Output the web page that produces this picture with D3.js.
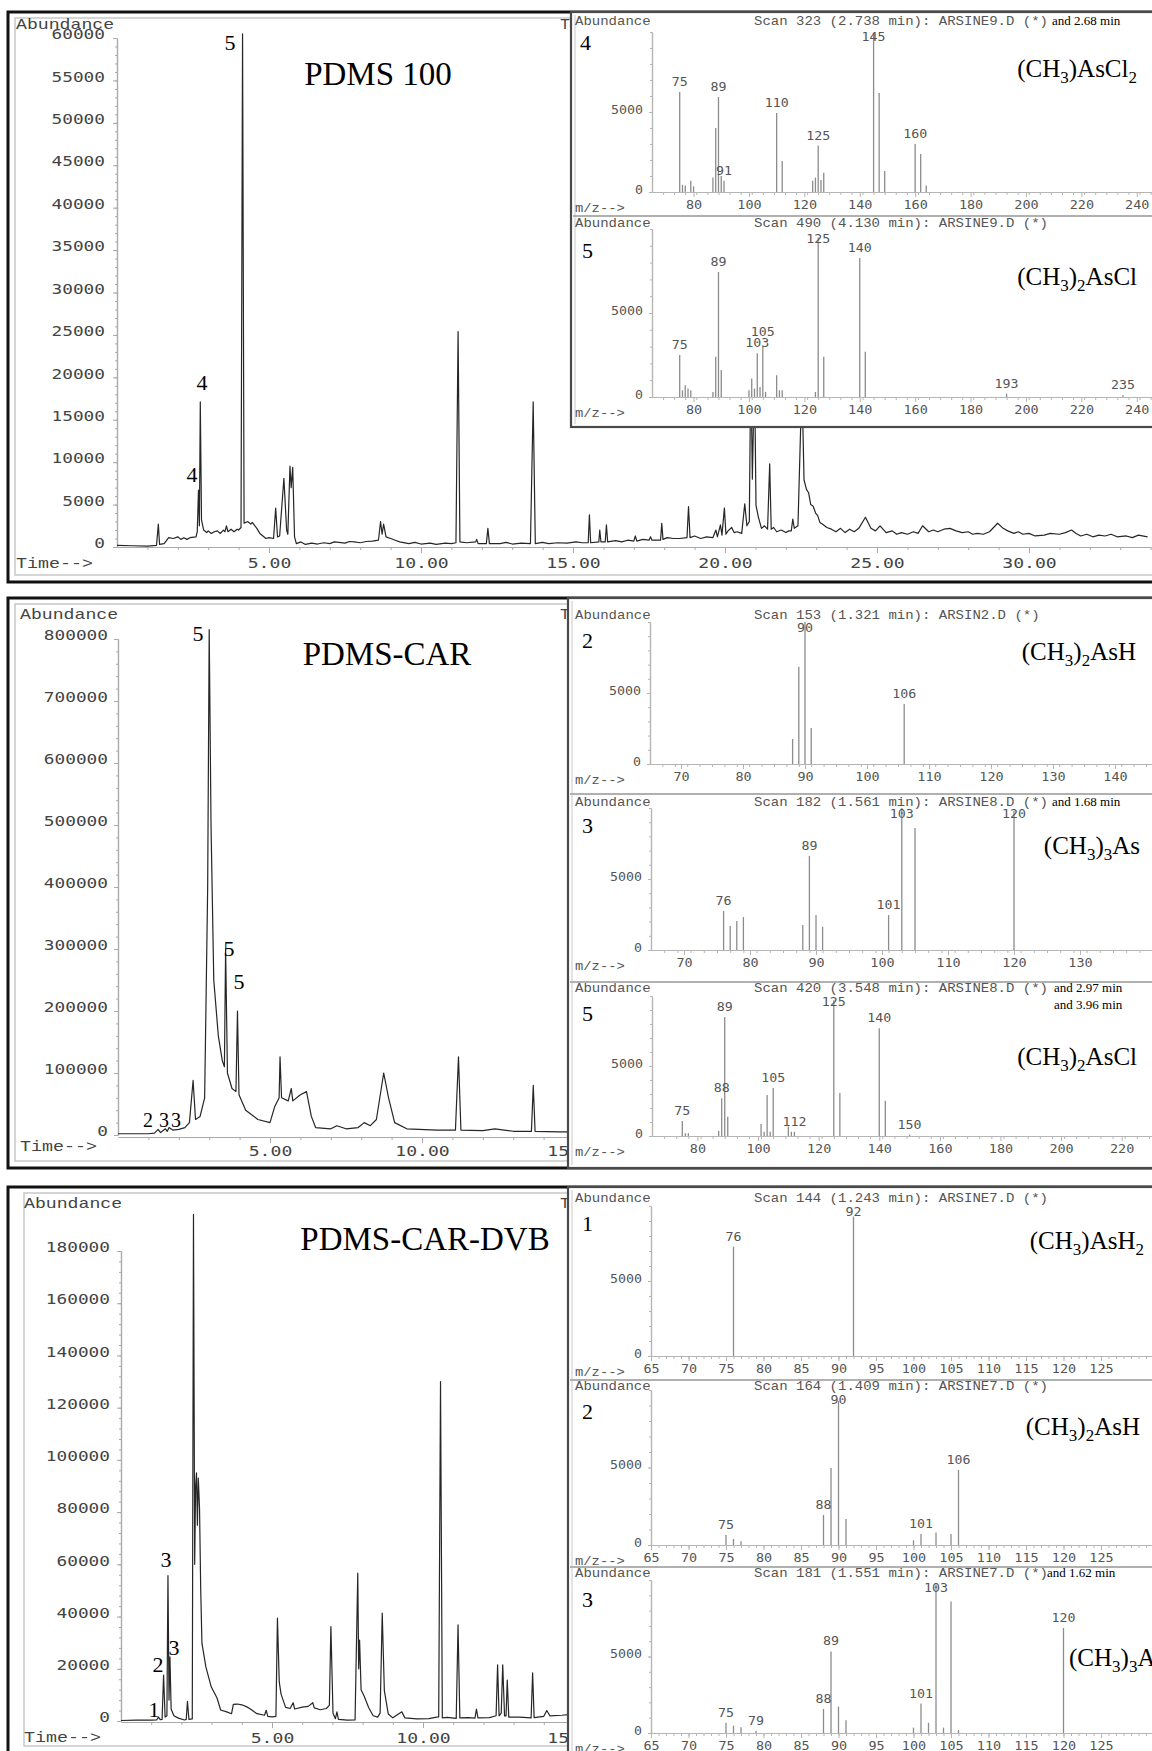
<!DOCTYPE html>
<html><head><meta charset="utf-8">
<script src="https://cdn.jsdelivr.net/npm/d3@7"></script>
<style>body{margin:0;background:#fff}svg{display:block}</style>
</head><body>
<script>
// ================= DATA =================
const timeTicks = [5, 10, 15, 20, 25, 30];
const yTicks1 = [0,5000,10000,15000,20000,25000,30000,35000,40000,45000,50000,55000,60000];
const yTicks2 = [0,100000,200000,300000,400000,500000,600000,700000,800000];
const yTicks3 = [0,20000,40000,60000,80000,100000,120000,140000,160000,180000];

// PDMS 100 total ion chromatogram [time (min), abundance]
const chromPDMS100 = [
[0.00,200],[0.5,150],[1.0,100],[1.30,200],[1.36,2700],[1.40,300],[1.55,400],[1.70,1100],[1.85,1000],[2.0,1200],[2.1,900],[2.2,1100],[2.3,900],[2.4,1100],[2.60,1200],
[2.64,1800],[2.68,6700],[2.71,2500],[2.74,17100],[2.78,3200],[2.85,2000],[2.95,1700],[3.0,1900],[3.1,1600],[3.2,1800],[3.3,1900],[3.4,1600],[3.5,2000],[3.55,1800],[3.60,2500],[3.65,1800],
[3.75,2100],[3.85,1800],[3.95,2100],[4.0,2000],[4.08,2300],[4.13,60500],[4.18,2800],[4.3,3000],[4.4,2700],[4.45,2900],[4.6,2200],[4.7,1600],[4.8,1300],[4.9,1000],[5.0,1100],[5.15,1000],[5.22,4600],[5.28,1200],
[5.35,1300],[5.49,8100],[5.58,2000],[5.62,1500],[5.69,9550],[5.73,7000],[5.78,9400],[5.84,1200],[5.9,400],[6.05,600],[6.2,300],[6.4,450],[6.6,350],[6.8,500],[7.0,400],[7.15,600],[7.3,550],[7.5,450],
[7.65,650],[7.8,600],[8.0,500],[8.2,650],[8.4,700],[8.6,800],[8.67,3000],[8.72,1500],[8.77,2700],[8.85,1200],[9.0,1000],[9.15,800],[9.3,600],[9.6,400],[9.8,550],[10.0,350],[10.3,450],[10.5,300],
[10.8,450],[11.0,400],[11.15,500],[11.22,25400],[11.28,600],[11.5,500],[11.8,600],[11.83,900],[11.88,400],[12.15,400],[12.2,2200],[12.25,400],[12.6,400],[12.8,550],[13.0,350],
[13.3,450],[13.6,400],[13.69,17100],[13.76,400],[14.0,550],[14.2,400],[14.5,500],[14.8,450],[15.1,600],[15.3,500],[15.5,500],[15.54,3800],[15.58,500],[15.85,600],[15.88,2000],
[15.92,600],[16.06,600],[16.1,2600],[16.14,600],[16.4,750],[16.6,600],[16.8,800],[17.0,700],[17.05,1300],[17.1,700],[17.3,900],[17.5,800],[17.55,1200],[17.6,800],[17.88,800],[17.92,2800],
[17.96,900],[18.1,1100],[18.3,1000],[18.5,1000],[18.75,1100],[18.8,4750],[18.85,1100],[19.0,1300],[19.2,1000],[19.4,1200],[19.6,1100],[19.7,2000],[19.75,1200],[19.85,2600],[19.9,1400],
[19.98,4600],[20.03,1500],[20.1,1900],[20.22,2300],[20.3,1700],[20.4,1800],[20.55,1600],[20.65,5100],[20.72,2500],[20.8,3000],[20.85,22000],[20.9,8000],[20.97,21000],[21.02,4900],
[21.1,3500],[21.2,2200],[21.3,2500],[21.4,2100],[21.47,9800],[21.52,2100],[21.6,2300],[21.7,1800],[21.85,2000],[22.0,1700],[22.1,1900],[22.18,1900],[22.23,3300],[22.28,2200],[22.4,2500],[22.53,19500],
[22.6,7900],[22.68,6800],[22.75,6400],[22.82,5000],[22.9,4800],[22.98,4000],[23.05,3700],[23.12,2900],[23.2,2700],[23.35,2300],[23.5,2100],[23.65,1800],[23.8,2200],[23.95,1700],[24.1,2100],[24.25,1800],
[24.4,2200],[24.62,3500],[24.8,2200],[24.95,1900],[25.1,2500],[25.3,1700],[25.5,1900],[25.65,1500],[25.8,1700],[26.0,1500],[26.2,1800],[26.35,1600],[26.5,2500],[26.7,1800],
[26.85,2000],[27.0,1800],[27.2,2100],[27.4,2200],[27.6,1900],[27.8,1700],[28.0,1800],[28.15,1500],[28.3,1600],[28.5,1500],[28.7,1800],[28.97,2800],[29.15,2200],[29.3,1900],
[29.5,1600],[29.65,1800],[29.8,1500],[30.0,1600],[30.2,1300],[30.5,1400],[30.7,1600],[31.0,1500],[31.2,1700],[31.4,2000],[31.55,1600],[31.7,1300],[31.9,1500],[32.1,1200],
[32.3,1400],[32.5,1300],[32.7,1500],[32.9,1200],[33.2,1300],[33.4,1100],[33.6,1400],[33.9,1200]
];

// PDMS-CAR chromatogram
const chromPDMSCAR = [
[0.0,2000],[1.0,2000],[1.2,3000],[1.32,9000],[1.4,4000],[1.56,10000],[1.62,6000],[1.68,12000],[1.8,8000],[2.0,9000],[2.2,12000],[2.35,20000],
[2.47,88000],[2.55,25000],[2.7,30000],[2.85,60000],[2.95,400000],[3.0,815000],[3.06,500000],[3.15,250000],[3.3,160000],[3.43,120000],[3.50,110000],
[3.54,300000],[3.60,100000],[3.75,75000],[3.88,70000],[3.93,200000],[3.98,65000],[4.2,40000],[4.6,25000],[5.0,20000],[5.15,45000],[5.3,60000],
[5.33,126000],[5.38,60000],[5.6,55000],[5.7,75000],[5.75,55000],[6.0,65000],[6.2,70000],[6.36,30000],[6.5,12000],[7.0,10000],[7.2,15000],[7.5,10000],
[7.9,12000],[8.1,20000],[8.3,15000],[8.5,25000],[8.74,100000],[8.9,60000],[9.1,20000],[9.5,10000],[10.5,8000],[11.1,8000],[11.2,126000],[11.28,8000],
[12.0,7000],[12.4,10000],[13.0,6000],[13.6,6000],[13.66,80000],[13.72,6000],[14.5,5000],[15.2,5000]
];

// PDMS-CAR-DVB chromatogram
const chromPDMSCARDVB = [
[0.0,200],[0.5,300],[1.0,300],[1.18,400],[1.24,1500],[1.30,500],[1.36,600],[1.41,17600],[1.46,1500],[1.52,2000],[1.555,55700],[1.59,8000],[1.62,24600],
[1.66,4600],[1.75,2000],[1.9,1100],[2.1,400],[2.16,600],[2.2,7500],[2.25,600],[2.36,800],[2.40,194000],[2.44,60000],[2.47,90000],[2.50,95000],[2.53,75000],
[2.56,93000],[2.60,81600],[2.64,50000],[2.68,29800],[2.81,20700],[2.99,13000],[3.18,8800],[3.30,4200],[3.50,3500],[3.66,2800],[3.72,6400],[3.85,6500],
[4.0,6200],[4.15,5500],[4.26,4800],[4.4,3600],[4.5,2800],[4.75,2200],[4.81,4100],[4.86,1800],[5.0,1600],[5.13,1800],[5.18,39400],[5.24,15000],[5.3,10300],
[5.45,5200],[5.6,4800],[5.7,7000],[5.75,4600],[6.0,5300],[6.2,5600],[6.35,7000],[6.4,5000],[6.6,4300],[6.8,4800],[6.9,6000],[6.95,36200],[7.02,3000],
[7.1,900],[7.15,3500],[7.2,600],[7.5,300],[7.75,400],[7.84,56600],[7.87,20000],[7.9,31000],[7.95,12000],[8.05,9600],[8.2,5200],[8.35,2000],[8.5,1500],
[8.58,3000],[8.65,41300],[8.72,11600],[8.85,2700],[9.0,1200],[9.3,3500],[9.4,1200],[9.8,800],[10.2,900],[10.45,1500],[10.52,1600],[10.58,130000],
[10.64,1200],[10.8,1400],[11.1,1000],[11.16,36800],[11.22,1200],[11.5,1300],[11.72,1100],[11.77,4600],[11.82,1200],[12.2,1300],[12.42,2000],[12.47,21500],
[12.52,2000],[12.59,3000],[12.64,21500],[12.70,2000],[12.75,2000],[12.79,15700],[12.84,1500],[13.2,1500],[13.58,1200],[13.63,18400],[13.68,1300],
[14.0,1800],[14.1,4000],[14.2,2000],[14.6,2200],[15.0,2600],[15.3,2500]
];

// Mass spectra [m/z, abundance]
const spec4_MeAsCl2 = [[75,6250],[76,450],[77,400],[79,700],[80,350],[87,900],[88,4000],[89,5940],[90,1000],[91,700],[110,4940],[112,1940],[123,700],[124,900],[125,2900],[126,750],[127,1200],[145,9940],[147,6190],[149,1310],[160,3000],[162,2370],[164,400]];
const spec5_Me2AsCl_a = [[75,2500],[76,400],[77,700],[78,500],[79,400],[87,300],[88,2400],[89,7440],[90,1600],[100,400],[101,1100],[102,500],[103,2600],[104,600],[105,3000],[106,300],[110,1300],[111,400],[112,400],[124,300],[125,9500],[127,2400],[140,8270],[142,2700],[193,200],[235,100]];
const spec2_Me2AsH_b = [[88,1760],[89,6850],[90,10000],[91,2530],[106,4220]];
const spec3_Me3As_b = [[76,2750],[77,1690],[78,2040],[79,2320],[88,1760],[89,6620],[90,2460],[91,1640],[101,2460],[103,10000],[105,8590],[120,9800]];
const spec5_Me2AsCl_b = [[75,1070],[76,200],[77,200],[87,350],[88,2700],[89,8500],[90,1380],[101,860],[102,300],[103,2930],[104,300],[105,3420],[110,670],[111,300],[112,300],[125,9700],[127,3070],[140,7700],[142,2520],[150,100]];
const spec1_MeAsH2_c = [[76,7290],[92,9300]];
const spec2_Me2AsH_c = [[75,650],[76,390],[77,250],[88,1940],[89,4970],[90,9300],[91,1680],[100,300],[101,710],[103,800],[105,710],[106,4840]];
const spec3_Me3As_c = [[75,670],[76,480],[77,380],[79,150],[88,1570],[89,5330],[90,1720],[91,830],[100,350],[101,1920],[102,670],[103,9700],[104,350],[105,8600],[106,200],[120,6860]];

// labelled peaks
const lab4a = [75,89,91,110,125,145,160];
const lab5a = [75,89,103,105,125,140,193,235];
const lab2b = [90,106];
const lab3b = [76,89,101,103,120];
const lab5b = [75,88,89,105,112,125,140,150];
const lab1c = [76,92];
const lab2c = [75,88,90,101,106];
const lab3c = [75,79,88,89,101,103,120];

// m/z tick labels
const mzTicks20 = [80,100,120,140,160,180,200,220,240];
const mzTicks10a = [70,80,90,100,110,120,130,140];
const mzTicks10b = [70,80,90,100,110,120,130];
const mzTicks5 = [65,70,75,80,85,90,95,100,105,110,115,120,125];

// texts
const titles = {
  a4:"Scan 323 (2.738 min): ARSINE9.D (*)", a5:"Scan 490 (4.130 min): ARSINE9.D (*)",
  b2:"Scan 153 (1.321 min): ARSIN2.D (*)", b3:"Scan 182 (1.561 min): ARSINE8.D (*)", b5:"Scan 420 (3.548 min): ARSINE8.D (*)",
  c1:"Scan 144 (1.243 min): ARSINE7.D (*)", c2:"Scan 164 (1.409 min): ARSINE7.D (*)", c3:"Scan 181 (1.551 min): ARSINE7.D (*)"
};
const F_MeAsCl2 = [["(CH",0],["3",1],[")AsCl",0],["2",1]];
const F_Me2AsCl = [["(CH",0],["3",1],[")",0],["2",1],["AsCl",0]];
const F_Me2AsH = [["(CH",0],["3",1],[")",0],["2",1],["AsH",0]];
const F_Me3As = [["(CH",0],["3",1],[")",0],["3",1],["As",0]];
const F_MeAsH2 = [["(CH",0],["3",1],[")AsH",0],["2",1]];

// ================= DRAW =================
const W = 1152, H = 1751;
const svg = d3.select("body").append("svg").attr("width", W).attr("height", H);
const MONO = "'Liberation Mono','Courier New',monospace";
const NUM = "'DejaVu Sans Mono',monospace";
const SERIF = "'Liberation Serif','Times New Roman',serif";

function fit(sel, cw) {
  sel.each(function () {
    const t = d3.select(this); const s = t.text();
    if (s.length) t.attr("textLength", s.length * cw).attr("lengthAdjust", "spacingAndGlyphs");
  });
}
function mtext(g, s, x, y, size, cw, anchor, color, fam) {
  const t = g.append("text").attr("x", x).attr("y", y).attr("font-family", fam || MONO)
    .attr("font-size", size).attr("fill", color || "#444").attr("text-anchor", anchor || "start").text(s);
  fit(t, cw); return t;
}
function serif(g, s, x, y, size, anchor) {
  return g.append("text").attr("x", x).attr("y", y).attr("font-family", SERIF).attr("font-size", size)
    .attr("fill", "#000").attr("text-anchor", anchor || "middle").text(s);
}
function formula(g, parts, x, y, anchor) {
  const t = g.append("text").attr("x", x).attr("y", y).attr("font-family", SERIF).attr("font-size", 25)
    .attr("fill", "#000").attr("text-anchor", anchor);
  let sub = false;
  parts.forEach(([s, isSub]) => {
    const ts = t.append("tspan").text(s);
    if (isSub && !sub) { ts.attr("dy", 6).attr("font-size", 17); sub = true; }
    else if (isSub) { ts.attr("font-size", 17); }
    else if (!isSub && sub) { ts.attr("dy", -6); sub = false; }
  });
}
function styleAxis(a, color) {
  a.selectAll("path.domain").attr("stroke", color || "#9a9a9a").attr("stroke-width", 1.2);
  a.selectAll(".tick line").attr("stroke", color || "#9a9a9a");
}

function panelBorder(y1, y2) {
  svg.append("rect").attr("x", 8).attr("y", y1).attr("width", 1300).attr("height", y2 - y1)
    .attr("fill", "none").attr("stroke", "#111").attr("stroke-width", 3);
}

function chrom(cfg, data, yTicks, minorStep, ann) {
  const g = svg.append("g");
  g.append("rect").attr("x", cfg.fx).attr("y", cfg.fy).attr("width", 1300).attr("height", cfg.fh)
    .attr("fill", "none").attr("stroke", "#c8c8c8").attr("stroke-width", 1.5);
  const x = d3.scaleLinear().domain([0, cfg.tMax]).range([cfg.x0, cfg.x0 + cfg.tMax * cfg.ppm]);
  const yMax = yTicks[yTicks.length - 1];
  const y = d3.scaleLinear().domain([0, yMax]).range([cfg.y0, cfg.yTop]);
  const minor = d3.range(0, yMax + 1, minorStep);
  const ym = g.append("g").attr("transform", `translate(${cfg.x0},0)`)
    .call(d3.axisLeft(y).tickValues(minor).tickSize(2).tickFormat("").tickSizeOuter(0));
  styleAxis(ym, "#aaa");
  const ya = g.append("g").attr("transform", `translate(${cfg.x0},0)`)
    .call(d3.axisLeft(y).tickValues(yTicks).tickSize(4).tickPadding(cfg.pad).tickSizeOuter(0).tickFormat(d => String(d)));
  styleAxis(ya, "#aaa");
  ya.selectAll("text").attr("font-family", NUM).attr("font-size", 14).attr("fill", "#444").attr("dy", "0.05em");
  fit(ya.selectAll("text"), 10.7);
  const xm = g.append("g").attr("transform", `translate(0,${cfg.xAxisY})`)
    .call(d3.axisBottom(x).tickValues(d3.range(1, cfg.tMax + 0.1, 1)).tickSize(3).tickFormat("").tickSizeOuter(0));
  styleAxis(xm, "#aaa");
  const xa = g.append("g").attr("transform", `translate(0,${cfg.xAxisY})`)
    .call(d3.axisBottom(x).tickValues(timeTicks).tickSize(6).tickPadding(cfg.xpad).tickSizeOuter(0).tickFormat(d3.format(".2f")));
  styleAxis(xa, "#aaa");
  xa.selectAll("text").attr("font-family", NUM).attr("font-size", 14).attr("fill", "#444");
  fit(xa.selectAll("text"), 10.9);
  g.append("path").datum(data).attr("fill", "none").attr("stroke", "#262626").attr("stroke-width", 1.2)
    .attr("stroke-linejoin", "round")
    .attr("d", d3.line().x(d => x(d[0])).y(d => y(d[1])));
  mtext(g, "Abundance", cfg.abX, cfg.abY, 15, 10.9, "start", "#444");
  mtext(g, "Time-->", cfg.abX, cfg.timeY, 15, 11, "start", "#444");
  mtext(g, "T", 560, cfg.abY, 15, 10, "start", "#444");
  ann.forEach(a => serif(g, a[0], a[1], a[2], a[3], a[4]));
}

function inset(x, y1, y2, seps) {
  const g = svg.append("g");
  g.append("rect").attr("x", x).attr("y", y1).attr("width", 1300).attr("height", y2 - y1)
    .attr("fill", "#fff").attr("stroke", "#4a4a4a").attr("stroke-width", 2.2);
  g.append("line").attr("x1", x + 4).attr("x2", x + 4).attr("y1", y1 + 3).attr("y2", y2 - 3)
    .attr("stroke", "#d0d0d0").attr("stroke-width", 1.2);
  seps.forEach(s => g.append("line").attr("x1", x + 2).attr("x2", W).attr("y1", s).attr("y2", s)
    .attr("stroke", "#b0b0b0").attr("stroke-width", 2));
  return g;
}

function spectrum(g, cfg, data, labels, mzTicks, minorStep, title, num, fparts) {
  const mzMax = 65 + (W + 20 - cfg.x0) / cfg.ppu;
  const x = d3.scaleLinear().domain([65, mzMax]).range([cfg.x0, cfg.x0 + (mzMax - 65) * cfg.ppu]);
  const y = d3.scaleLinear().domain([0, 10000]).range([cfg.y0, cfg.y0 - cfg.ppk * 10]);
  const ym = g.append("g").attr("transform", `translate(${cfg.x0},0)`)
    .call(d3.axisLeft(y).tickValues(d3.range(0, 10001, 1000)).tickSize(2).tickFormat("").tickSizeOuter(0));
  styleAxis(ym, "#b5b5b5");
  const ya = g.append("g").attr("transform", `translate(${cfg.x0},0)`)
    .call(d3.axisLeft(y).tickValues([0, 5000]).tickSize(3).tickPadding(6).tickSizeOuter(0).tickFormat(d => String(d)));
  styleAxis(ya, "#b5b5b5");
  ya.selectAll("text").attr("font-family", NUM).attr("font-size", 12).attr("fill", "#555").attr("dy", "0.1em");
  fit(ya.selectAll("text"), 8);
  const xm = g.append("g").attr("transform", `translate(0,${cfg.y0})`)
    .call(d3.axisBottom(x).tickValues(d3.range(65 + minorStep, mzMax, minorStep)).tickSize(3).tickFormat("").tickSizeOuter(0));
  styleAxis(xm, "#b5b5b5");
  const xa = g.append("g").attr("transform", `translate(0,${cfg.y0})`)
    .call(d3.axisBottom(x).tickValues(mzTicks).tickSize(5).tickPadding(cfg.xpad).tickSizeOuter(0).tickFormat(d => String(d)));
  styleAxis(xa, "#b5b5b5");
  xa.selectAll("text").attr("font-family", NUM).attr("font-size", 12.5).attr("fill", "#555");
  fit(xa.selectAll("text"), 8.1);
  g.append("g").selectAll("line").data(data).join("line")
    .attr("x1", d => x(d[0])).attr("x2", d => x(d[0])).attr("y1", y(0)).attr("y2", d => y(d[1]))
    .attr("stroke", "#8c8c8c").attr("stroke-width", 1.3);
  const lookup = new Map(data);
  const placed = [];
  labels.forEach(m => {
    const v = lookup.get(m) || 0;
    const s = String(m);
    const w = s.length * 8;
    const cx = x(m);
    let by = Math.max(y(v) - 6, cfg.labMin);
    let moved = true;
    while (moved) {
      moved = false;
      for (const p of placed) {
        if (Math.abs(p.x - cx) < (p.w + w) / 2 && Math.abs(p.y - by) < 10) { by = p.y - 11; moved = true; }
      }
    }
    placed.push({x: cx, y: by, w});
    const t = g.append("text").attr("x", cx).attr("y", by).attr("font-family", NUM).attr("font-size", 12)
      .attr("fill", "#555").attr("text-anchor", "middle").text(s);
    fit(t, 8);
  });
  mtext(g, "Abundance", 575, cfg.abY, 13, 8.4, "start", "#555");
  mtext(g, "m/z-->", 575, cfg.y0 + cfg.xpad + 17, 13, 8.3, "start", "#555");
  mtext(g, title, 754, cfg.abY, 13, 8.4, "start", "#555");
  serif(g, num, cfg.numX, cfg.numY, 22, "start");
  formula(g, fparts, cfg.fX, cfg.fY, cfg.fAnchor || "end");
}

// ---------- Panel 1 : PDMS 100 ----------
panelBorder(12, 582);
chrom({fx: 15, fy: 18, fh: 557, x0: 117, ppm: 30.4, tMax: 34, y0: 547, yTop: 38, pad: 8, xAxisY: 547, xpad: 5,
       abX: 16, abY: 29, timeY: 568},
      chromPDMS100, yTicks1, 1000,
      [["5", 230, 50, 22, "middle"], ["4", 202, 390, 22, "middle"], ["4", 192, 482, 22, "middle"], ["PDMS 100", 378, 85, 33, "middle"]]);
{
  const g = inset(571, 12, 427, [216]);
  spectrum(g, {x0: 652, ppu: 2.77, y0: 192, ppk: 16, labMin: 41, abY: 25, xpad: 3, numX: 580, numY: 50, fX: 1137, fY: 77},
    spec4_MeAsCl2, lab4a, mzTicks20, 4, titles.a4, "4", F_MeAsCl2);
  serif(g, "and 2.68 min", 1052, 25, 13, "start");
  spectrum(g, {x0: 652, ppu: 2.77, y0: 397, ppk: 16.8, labMin: 243, abY: 227, xpad: 3, numX: 582, numY: 258, fX: 1137, fY: 285},
    spec5_Me2AsCl_a, lab5a, mzTicks20, 4, titles.a5, "5", F_Me2AsCl);
}

// ---------- Panel 2 : PDMS-CAR ----------
panelBorder(598, 1168);
chrom({fx: 15, fy: 604, fh: 557, x0: 118, ppm: 30.4, tMax: 34, y0: 1135, yTop: 639, pad: 6, xAxisY: 1137, xpad: 3,
       abX: 20, abY: 619, timeY: 1151},
      chromPDMSCAR, yTicks2, 20000,
      [["5", 198, 641, 22, "middle"], ["5", 229, 956, 22, "middle"], ["5", 239, 989, 22, "middle"],
       ["2", 148, 1127, 20, "middle"], ["3", 164, 1127, 20, "middle"], ["3", 176, 1127, 20, "middle"],
       ["PDMS-CAR", 387, 665, 33, "middle"]]);
{
  const g = inset(568, 598, 1168, [794, 982]);
  spectrum(g, {x0: 650, ppu: 6.2, y0: 764, ppk: 14.2, labMin: 632, abY: 619, xpad: 3, numX: 582, numY: 648, fX: 1136, fY: 660},
    spec2_Me2AsH_b, lab2b, mzTicks10a, 2, titles.b2, "2", F_Me2AsH);
  spectrum(g, {x0: 651, ppu: 6.6, y0: 950, ppk: 14.2, labMin: 818, abY: 806, xpad: 3, numX: 582, numY: 833, fX: 1140, fY: 854},
    spec3_Me3As_b, lab3b, mzTicks10b, 2, titles.b3, "3", F_Me3As);
  serif(g, "and 1.68  min", 1052, 806, 13, "start");
  spectrum(g, {x0: 652, ppu: 3.03, y0: 1136, ppk: 14, labMin: 1006, abY: 992, xpad: 3, numX: 582, numY: 1021, fX: 1137, fY: 1065},
    spec5_Me2AsCl_b, lab5b, mzTicks20, 4, titles.b5, "5", F_Me2AsCl);
  serif(g, "and 2.97  min", 1054, 992, 13, "start");
  serif(g, "and 3.96 min", 1054, 1009, 13, "start");
}

// ---------- Panel 3 : PDMS-CAR-DVB ----------
panelBorder(1187, 1800);
chrom({fx: 24, fy: 1193, fh: 553, x0: 121, ppm: 30.2, tMax: 34, y0: 1721, yTop: 1251, pad: 7, xAxisY: 1722, xpad: 5,
       abX: 24, abY: 1208, timeY: 1742},
      chromPDMSCARDVB, yTicks3, 4000,
      [["3", 166, 1567, 22, "middle"], ["3", 174, 1655, 22, "middle"], ["2", 158, 1672, 22, "middle"], ["1", 154, 1717, 22, "middle"],
       ["PDMS-CAR-DVB", 425, 1250, 33, "middle"]]);
{
  const g = inset(568, 1187, 1800, [1380, 1567]);
  spectrum(g, {x0: 651, ppu: 7.5, y0: 1356, ppk: 15, labMin: 1216, abY: 1202, xpad: 3, numX: 582, numY: 1231, fX: 1144, fY: 1249},
    spec1_MeAsH2_c, lab1c, mzTicks5, 1, titles.c1, "1", F_MeAsH2);
  spectrum(g, {x0: 651, ppu: 7.5, y0: 1545, ppk: 15.5, labMin: 1404, abY: 1390, xpad: 3, numX: 582, numY: 1419, fX: 1140, fY: 1435},
    spec2_Me2AsH_c, lab2c, mzTicks5, 1, titles.c2, "2", F_Me2AsH);
  spectrum(g, {x0: 651, ppu: 7.5, y0: 1733, ppk: 15.3, labMin: 1592, abY: 1577, xpad: 3, numX: 582, numY: 1607, fX: 1069, fY: 1666, fAnchor: "start"},
    spec3_Me3As_c, lab3c, mzTicks5, 1, titles.c3, "3", F_Me3As);
  serif(g, "and 1.62 min", 1047, 1577, 13, "start");
}
</script>
</body></html>
